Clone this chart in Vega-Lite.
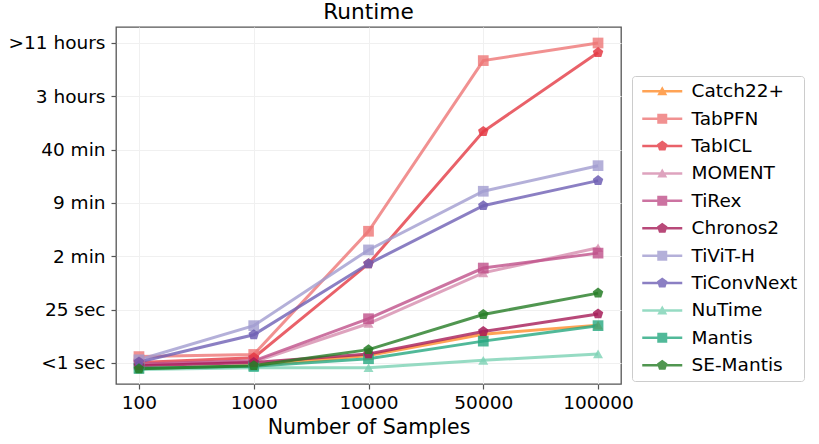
{
  "$schema": "https://vega.github.io/schema/vega-lite/v6.json",
  "description": "Runtime of time series models by number of samples.",
  "width": 505,
  "height": 357,
  "autosize": {"type": "none"},
  "padding": {"left": 116, "top": 27, "right": 198, "bottom": 60},
  "title": {"text": "Runtime", "fontSize": 21.7, "fontWeight": "normal", "font": "DejaVu Sans", "color": "#000", "anchor": "middle", "offset": 3},
  "data": {
    "values": [
      {"model": "Catch22+", "samples": "100", "level": -0.11},
      {"model": "Catch22+", "samples": "1000", "level": -0.05},
      {"model": "Catch22+", "samples": "10000", "level": 0.14},
      {"model": "Catch22+", "samples": "50000", "level": 0.54},
      {"model": "Catch22+", "samples": "100000", "level": 0.71},
      {"model": "TabPFN", "samples": "100", "level": 0.12},
      {"model": "TabPFN", "samples": "1000", "level": 0.16},
      {"model": "TabPFN", "samples": "10000", "level": 2.47},
      {"model": "TabPFN", "samples": "50000", "level": 5.67},
      {"model": "TabPFN", "samples": "100000", "level": 6.0},
      {"model": "TabICL", "samples": "100", "level": 0.01},
      {"model": "TabICL", "samples": "1000", "level": 0.1},
      {"model": "TabICL", "samples": "10000", "level": 1.86},
      {"model": "TabICL", "samples": "50000", "level": 4.34},
      {"model": "TabICL", "samples": "100000", "level": 5.82},
      {"model": "MOMENT", "samples": "100", "level": -0.04},
      {"model": "MOMENT", "samples": "1000", "level": 0.02},
      {"model": "MOMENT", "samples": "10000", "level": 0.74},
      {"model": "MOMENT", "samples": "50000", "level": 1.69},
      {"model": "MOMENT", "samples": "100000", "level": 2.16},
      {"model": "TiRex", "samples": "100", "level": -0.02},
      {"model": "TiRex", "samples": "1000", "level": 0.04},
      {"model": "TiRex", "samples": "10000", "level": 0.83},
      {"model": "TiRex", "samples": "50000", "level": 1.78},
      {"model": "TiRex", "samples": "100000", "level": 2.06},
      {"model": "Chronos2", "samples": "100", "level": -0.05},
      {"model": "Chronos2", "samples": "1000", "level": 0.01},
      {"model": "Chronos2", "samples": "10000", "level": 0.17},
      {"model": "Chronos2", "samples": "50000", "level": 0.59},
      {"model": "Chronos2", "samples": "100000", "level": 0.92},
      {"model": "TiViT-H", "samples": "100", "level": 0.06},
      {"model": "TiViT-H", "samples": "1000", "level": 0.7},
      {"model": "TiViT-H", "samples": "10000", "level": 2.12},
      {"model": "TiViT-H", "samples": "50000", "level": 3.22},
      {"model": "TiViT-H", "samples": "100000", "level": 3.7},
      {"model": "TiConvNext", "samples": "100", "level": 0.02},
      {"model": "TiConvNext", "samples": "1000", "level": 0.53},
      {"model": "TiConvNext", "samples": "10000", "level": 1.86},
      {"model": "TiConvNext", "samples": "50000", "level": 2.95},
      {"model": "TiConvNext", "samples": "100000", "level": 3.42},
      {"model": "NuTime", "samples": "100", "level": -0.12},
      {"model": "NuTime", "samples": "1000", "level": -0.09},
      {"model": "NuTime", "samples": "10000", "level": -0.09},
      {"model": "NuTime", "samples": "50000", "level": 0.05},
      {"model": "NuTime", "samples": "100000", "level": 0.17},
      {"model": "Mantis", "samples": "100", "level": -0.1},
      {"model": "Mantis", "samples": "1000", "level": -0.06},
      {"model": "Mantis", "samples": "10000", "level": 0.08},
      {"model": "Mantis", "samples": "50000", "level": 0.41},
      {"model": "Mantis", "samples": "100000", "level": 0.7},
      {"model": "SE-Mantis", "samples": "100", "level": -0.11},
      {"model": "SE-Mantis", "samples": "1000", "level": -0.05},
      {"model": "SE-Mantis", "samples": "10000", "level": 0.25},
      {"model": "SE-Mantis", "samples": "50000", "level": 0.91},
      {"model": "SE-Mantis", "samples": "100000", "level": 1.31}
    ]
  },
  "encoding": {
    "x": {
      "field": "samples",
      "type": "ordinal",
      "sort": ["100", "1000", "10000", "50000", "100000"],
      "scale": {"type": "point", "padding": 0.2},
      "axis": {"title": "Number of Samples", "labelAngle": 0, "grid": true}
    },
    "y": {
      "field": "level",
      "type": "quantitative",
      "scale": {"domain": [-0.394, 6.3], "nice": false, "zero": false},
      "axis": {
        "title": null,
        "values": [0, 1, 2, 3, 4, 5, 6],
        "labelExpr": "['<1 sec', '25 sec', '2 min', '9 min', '40 min', '3 hours', '>11 hours'][datum.value]"
      }
    },
    "color": {
      "field": "model",
      "type": "nominal",
      "scale": {
        "domain": ["Catch22+", "TabPFN", "TabICL", "MOMENT", "TiRex", "Chronos2", "TiViT-H", "TiConvNext", "NuTime", "Mantis", "SE-Mantis"],
        "range": ["#ff8c2a", "#ee7676", "#e43a44", "#d68cae", "#bf5089", "#a61c58", "#a19cd0", "#6e5fb4", "#7cd2b4", "#26a880", "#247c24"]
      },
      "legend": {
        "orient": "none",
        "legendX": 516,
        "legendY": 49,
        "title": null,
        "labelFont": "DejaVu Sans",
        "labelFontSize": 18.5,
        "labelColor": "#000",
        "labelOffset": 35,
        "symbolSize": 100,
        "symbolStrokeWidth": 0,
        "symbolOpacity": 0.8,
        "rowPadding": 8.4,
        "padding": 6,
        "strokeColor": "#cccccc",
        "fillColor": "#ffffff",
        "cornerRadius": 3
      }
    }
  },
  "layer": [
    {"mark": {"type": "line", "strokeWidth": 3, "opacity": 0.8}},
    {
      "transform": [{"filter": {"field": "model", "oneOf": ["Catch22+", "MOMENT", "NuTime"]}}],
      "mark": {"type": "point", "shape": "triangle-up", "filled": true, "size": 100, "opacity": 0.8}
    },
    {
      "transform": [{"filter": {"field": "model", "oneOf": ["TabPFN", "TiRex", "TiViT-H", "Mantis"]}}],
      "mark": {"type": "point", "shape": "square", "filled": true, "size": 115, "opacity": 0.8}
    },
    {
      "transform": [{"filter": {"field": "model", "oneOf": ["TabICL", "Chronos2", "TiConvNext", "SE-Mantis"]}}],
      "mark": {"type": "point", "shape": "M0,-1.1L1.046,-0.34L0.647,0.89L-0.647,0.89L-1.046,-0.34Z", "filled": true, "size": 100, "opacity": 0.85}
    },
    {
      "mark": {"type": "point", "filled": true, "size": 100, "opacity": 0},
      "encoding": {
        "shape": {
          "field": "model",
          "type": "nominal",
          "scale": {
            "domain": ["Catch22+", "TabPFN", "TabICL", "MOMENT", "TiRex", "Chronos2", "TiViT-H", "TiConvNext", "NuTime", "Mantis", "SE-Mantis"],
            "range": [
              "M-1,-0.25H7V0.25H-1Z M3,-1L4,0.8H2Z",
              "M-1,-0.25H7V0.25H-1Z M2,-1H4V1H2Z",
              "M-1,-0.25H7V0.25H-1Z M3,-1.1L4.046,-0.34L3.647,0.89L2.353,0.89L1.954,-0.34Z",
              "M-1,-0.25H7V0.25H-1Z M3,-1L4,0.8H2Z",
              "M-1,-0.25H7V0.25H-1Z M2,-1H4V1H2Z",
              "M-1,-0.25H7V0.25H-1Z M3,-1.1L4.046,-0.34L3.647,0.89L2.353,0.89L1.954,-0.34Z",
              "M-1,-0.25H7V0.25H-1Z M2,-1H4V1H2Z",
              "M-1,-0.25H7V0.25H-1Z M3,-1.1L4.046,-0.34L3.647,0.89L2.353,0.89L1.954,-0.34Z",
              "M-1,-0.25H7V0.25H-1Z M3,-1L4,0.8H2Z",
              "M-1,-0.25H7V0.25H-1Z M2,-1H4V1H2Z",
              "M-1,-0.25H7V0.25H-1Z M3,-1.1L4.046,-0.34L3.647,0.89L2.353,0.89L1.954,-0.34Z"
            ]
          },
          "legend": {
            "orient": "none",
            "legendX": 516,
            "legendY": 49,
            "title": null,
            "labelFont": "DejaVu Sans",
            "labelFontSize": 18.5,
            "labelColor": "#000",
            "labelOffset": 35,
            "symbolSize": 100,
            "symbolStrokeWidth": 0,
            "symbolOpacity": 0.8,
            "rowPadding": 8.4,
            "padding": 6,
            "strokeColor": "#cccccc",
            "fillColor": "#ffffff",
            "cornerRadius": 3
          }
        }
      }
    }
  ],
  "config": {
    "font": "DejaVu Sans",
    "view": {"stroke": "#555555", "strokeWidth": 1.3},
    "axis": {
      "domain": false,
      "labelFont": "DejaVu Sans",
      "labelFontSize": 18.5,
      "labelColor": "#000",
      "titleFont": "DejaVu Sans",
      "titleFontSize": 20.5,
      "titleFontWeight": "normal",
      "titleColor": "#000",
      "tickColor": "#555555",
      "tickSize": 5,
      "tickWidth": 1.2,
      "labelPadding": 4,
      "gridColor": "#f0f0f0",
      "gridWidth": 1
    },
    "axisX": {"titlePadding": 6},
    "axisY": {"labelPadding": 6}
  }
}
